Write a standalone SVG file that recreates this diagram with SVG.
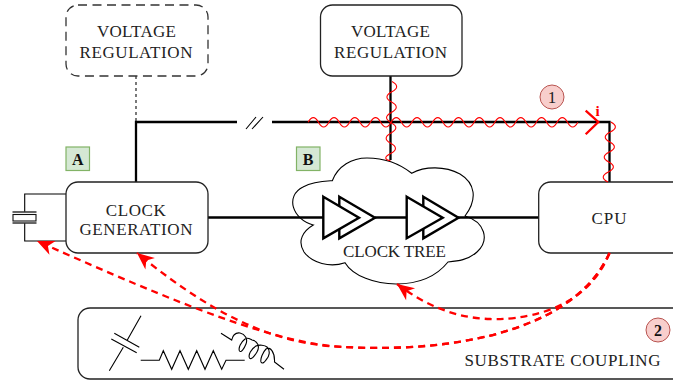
<svg xmlns="http://www.w3.org/2000/svg" width="673" height="381" viewBox="0 0 673 381">
<style>
text{font-family:"Liberation Serif","Times New Roman",serif;font-size:17px;fill:#222;text-anchor:middle}
.box{fill:#fff;stroke:#222;stroke-width:1.3}
.dash{fill:#fff;stroke:#333;stroke-width:1.3;stroke-dasharray:9 5.5}
.wire{fill:none;stroke:#000;stroke-width:2.3}
.thin{fill:none;stroke:#000;stroke-width:1.1}
.buf{fill:#fff;stroke:#000;stroke-width:2.4}
.wave{fill:none;stroke:#f00;stroke-width:1.1}
.noise{fill:none;stroke:#f00;stroke-width:2.3;stroke-dasharray:7 5;marker-end:url(#ah)}
.tag{fill:#d5e8d4;stroke:#82b366;stroke-width:1.2}
.num{fill:#f8cecc;stroke:#b85450;stroke-width:1}
.b{font-weight:bold;font-size:16px;fill:#111}
</style>
<defs>
<marker id="ah" markerUnits="userSpaceOnUse" markerWidth="20" markerHeight="20" refX="17" refY="8" orient="auto" overflow="visible">
<path d="M17 8L0 0.5L5 8L0 15.5Z" fill="#f00"/>
</marker>
</defs>
<g id="clock-tree">
<path style="fill:#fff;stroke:#000;stroke-width:1.1" d="M313.3 225C292 219 285 196 303 187C314 181 327 181 332.3 180.7C338 166 352 158 367 158C385 158 400 164 411.7 173.3C425 166 445 166 460 174C475 183 478 199 465 216C485 222 490 240 477 252C468 260 458 261 448 262C436 277 417 284 396 284C375 284 353 276 345 262.7C330 268 312 263 304 252C297 241 303 231 313.3 225Z"/>
<text x="394.5" y="257.3" textLength="103" lengthAdjust="spacing">CLOCK TREE</text>
</g>
<g id="connectors">
<path d="M136 76V122" fill="none" stroke="#333" stroke-width="1.3" stroke-dasharray="3 3"/>
<path class="wire" d="M136 182V122H237M272 122H609.5V182M390.5 76V160M208 217.5H323M375 217.5H407M458 217.5H539"/>
<path d="M246 129L256 117M252 129L263 117" fill="none" stroke="#000" stroke-width="1.1"/>
<path class="thin" d="M66 194H24.7V212M24.7 223V241H66"/>
</g>
<g id="crystal">
<path d="M12.5 212H36.5M12.5 223H36.5" fill="none" stroke="#333" stroke-width="1.4"/>
<rect x="13" y="214.5" width="23" height="6.5" fill="#fff" stroke="#111" stroke-width="1.1"/>
</g>
<g id="vr-dashed">
<rect class="dash" x="66" y="5" width="142" height="71" rx="12"/>
<text x="136.4" y="37" textLength="79" lengthAdjust="spacing">VOLTAGE</text>
<text x="136" y="58.3" textLength="113" lengthAdjust="spacing">REGULATION</text>
</g>
<g id="vr-solid">
<rect class="box" x="320.5" y="5" width="141.5" height="71" rx="12"/>
<text x="390.5" y="37" textLength="79" lengthAdjust="spacing">VOLTAGE</text>
<text x="390.5" y="58.3" textLength="113" lengthAdjust="spacing">REGULATION</text>
</g>
<g id="clock-generation">
<rect class="box" x="66" y="182" width="142" height="71" rx="12"/>
<text x="135.8" y="215.7" textLength="60" lengthAdjust="spacing">CLOCK</text>
<text x="136" y="235.3" textLength="113" lengthAdjust="spacing">GENERATION</text>
</g>
<g id="cpu">
<rect class="box" x="538.7" y="182" width="150" height="71" rx="12"/>
<text x="609" y="224.3" textLength="35" lengthAdjust="spacing">CPU</text>
</g>
<g id="substrate">
<rect class="box" x="78" y="308" width="610" height="71" rx="12"/>
<text x="562.5" y="365.7" textLength="196" lengthAdjust="spacing">SUBSTRATE COUPLING</text>
<path class="thin" d="M109.3 370.7L123.3 347.3M127.3 340L141 315.7M114.3 333.3L139.3 347.3M111.3 339L136.7 352.7"/>
<path class="thin" d="M140.7 360.3H159.3L163.3 350.7L171.7 369.3L180 350.7L188.3 369.3L196.7 350.7L205 369.3L213.3 350.7L221.7 369.3L226 360.3H244.7"/>
<path class="thin" d="M221 333.3L231.7 340C233 334 236 332.5 240 333C245 334 248 339 246 344C244 349 241 353 239.5 351C238 348 241 342 245 339C247 337 250 339 252 340C258 341 260 347 257 352C254 357 251 360 249.5 358C248 355 251 349 256 346C259 344.5 265 345 267 347C271 351 269 357 266 360C264 363 262 364 261 362C260 359 263 352 266 349C270 346 275 352 274.5 362L284 369.3"/>
</g>
<g id="buffers">
<path class="buf" d="M339.3 196.7L375 217.7L339.3 238.3Z"/>
<path class="buf" d="M323.3 196.7L359 217.7L323.3 238.3Z"/>
<path class="buf" d="M423.3 196.7L458.5 217.7L423.3 238.3Z"/>
<path class="buf" d="M406.7 196.7L442.7 217.7L406.7 238.3Z"/>
</g>
<g id="noise">
<path class="wave" d="M308.1 122.3q5.19 -9.4 10.375 0t10.375 0t10.375 0t10.375 0t10.375 0t10.375 0t10.375 0t10.375 0t10.375 0t10.375 0t10.375 0t10.375 0t10.375 0t10.375 0t10.375 0t10.375 0t10.375 0t10.375 0t10.375 0t10.375 0t10.375 0t10.375 0t10.375 0t10.375 0t10.375 0t10.375 0"/>
<path class="wave" d="M392 81.5q9.4 5.15 -.2 10.3t-.2 10.3t-.2 10.3t-.2 10.3t-.2 10.3t-.2 10.3t-.2 10.3t-.2 7"/>
<path class="wave" d="M610.8 122q9.4 5 -.5 10t-.5 10t-.5 10t-.5 10t-.5 10t-.5 10"/>
<path d="M585.7 110.7L598.3 122L585.7 134.3" fill="none" stroke="#f00" stroke-width="2.3"/>
<text x="597.7" y="116" style="fill:#f00;font-size:15px;font-weight:bold">i</text>
<path class="noise" d="M609.5 253C570 340 430 352 345 347C280 345 180 305 37 241"/>
<path class="noise" d="M609.5 253C570 340 430 352 345 347C285 345 225 325 137 253"/>
<path class="noise" d="M609.5 253C585 315 515 320 490 319C455 318 425 305 397 284"/>
</g>
<g id="tag-a"><rect class="tag" x="66" y="147" width="23.5" height="23.5"/><text class="b" x="77.7" y="165">A</text></g>
<g id="tag-b"><rect class="tag" x="296.5" y="147" width="23.5" height="23.5"/><text class="b" x="308.2" y="164.5">B</text></g>
<g id="num-1"><circle class="num" cx="552" cy="97" r="12"/><text x="552" y="103" style="font-size:17px">1</text></g>
<g id="num-2"><circle class="num" cx="658" cy="330" r="12"/><text class="b" x="658" y="336">2</text></g>
</svg>
